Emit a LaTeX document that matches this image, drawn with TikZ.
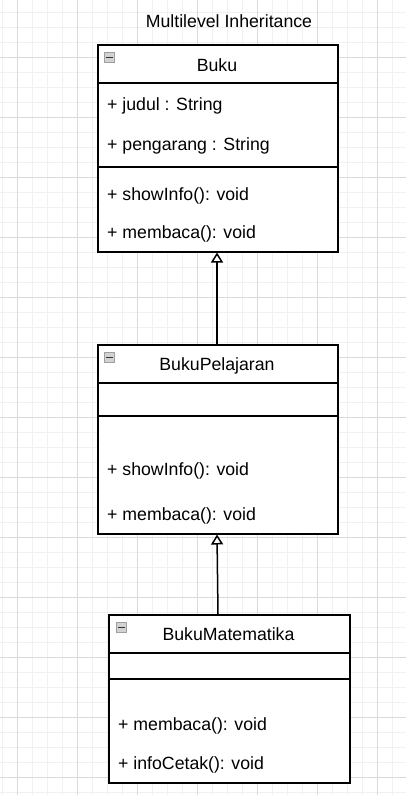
\documentclass[tikz,border=0pt]{standalone}
\usepackage{fontspec}
\setmainfont{Liberation Sans}
\usetikzlibrary{arrows.meta}
\definecolor{gridminor}{HTML}{F1F1F1}
\definecolor{gridmajor}{HTML}{DADADA}
\begin{document}
\begin{tikzpicture}[x=1pt,y=-1pt,
  minorline/.style={draw=gridminor,line width=1pt},
  majorline/.style={draw=gridmajor,line width=1pt},
  cls/.style={draw=black,line width=1.5pt,fill=white,inner sep=0pt,anchor=north west},
  sep/.style={draw=black,line width=1.5pt},
  txt/.style={inner sep=0pt,anchor=base west,font=\fontsize{17.7}{21}\selectfont},
  ttl/.style={inner sep=0pt,anchor=base,font=\fontsize{17.7}{21}\selectfont},
  iconbox/.style={draw=gray!75,fill=gray!35,line width=0.8pt,minimum size=10pt,inner sep=0pt},
  inherit/.style={draw=black,line width=1.5pt,-{Triangle[open,length=10pt,width=12pt,fill=white]}}]
\useasboundingbox (0,0) rectangle (406,795);
\fill[white] (0,0) rectangle (406,795);
% grid
\foreach \x in {2,17,...,406} {\draw[minorline] (\x,0) -- (\x,795);}
\foreach \y in {12,27,...,795} {\draw[minorline] (0,\y) -- (406,\y);}
\foreach \x in {17,77,...,406} {\draw[majorline] (\x,0) -- (\x,795);}
\foreach \y in {57,117,...,795} {\draw[majorline] (0,\y) -- (406,\y);}
% title
\node[ttl] (title) at (229,27.3) {Multilevel Inheritance};
% Buku
\node[cls,minimum width=240pt,minimum height=207pt] (b1) at (97,44) {};
\draw[sep] (97,83) -- (337,83);
\draw[sep] (97,167) -- (337,167);
\node[iconbox] (i1) at (109.5,57.5) {};
\draw[black!80,line width=1.3pt] (106,57.5) -- (113,57.5);
\node[ttl] (t1) at (217,71) {Buku};
\node[txt] (a11) at (107,110) {+ judul : String};
\node[txt] (a12) at (107,150) {+ pengarang : String};
\node[txt] (m11) at (107,200) {+ showInfo(): void};
\node[txt] (m12) at (107,238.3) {+ membaca(): void};
% BukuPelajaran
\node[cls,minimum width=240pt,minimum height=189pt] (b2) at (97,344) {};
\draw[sep] (97,383) -- (337,383);
\draw[sep] (97,416) -- (337,416);
\node[iconbox] (i2) at (109.5,357.5) {};
\draw[black!80,line width=1.3pt] (106,357.5) -- (113,357.5);
\node[ttl] (t2) at (217,370.7) {BukuPelajaran};
\node[txt] (m21) at (107,475.7) {+ showInfo(): void};
\node[txt] (m22) at (107,520.7) {+ membaca(): void};
% BukuMatematika
\node[cls,minimum width=241pt,minimum height=168pt] (b3) at (108,614) {};
\draw[sep] (108,653) -- (349,653);
\draw[sep] (108,679) -- (349,679);
\node[iconbox] (i3) at (121.5,627.5) {};
\draw[black!80,line width=1.3pt] (118,627.5) -- (125,627.5);
\node[ttl] (t3) at (228.5,640.7) {BukuMatematika};
\node[txt] (m31) at (118,730.7) {+ membaca(): void};
\node[txt] (m32) at (118,769.3) {+ infoCetak(): void};
% inheritance
\draw[inherit] (b2.north -| 217,0) -- (b1.south -| 217,0);
\draw[inherit] (b3.north -| 218,0) -- (b2.south -| 217,0);
\end{tikzpicture}
\end{document}
